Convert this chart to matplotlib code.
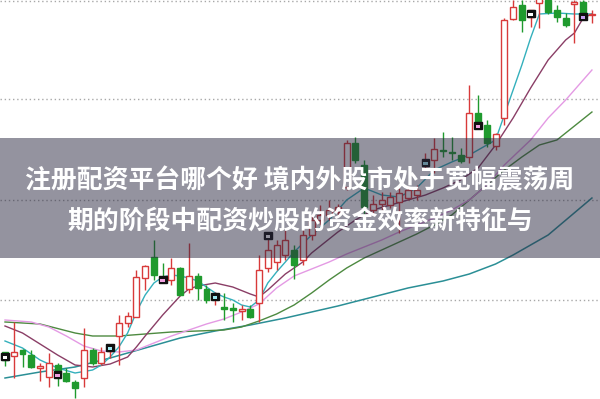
import matplotlib
matplotlib.use("Agg")
import matplotlib.pyplot as plt
from matplotlib.patches import Rectangle

# candle data (price units), index = bar number
opens = [48, 44, 50, 45, 32, 23, 35, 27, 18, 22, 50, 37, 49, 64, 77, 83, 122, 143, 122, 120,
         132, 111, 124, 111, 103, 93, 92, 89, 91, 97, 132, 138, 145, 150, 140, 165, 180, 185, 188, 213,
         257, 235, 190, 196, 195, 198, 202, 205, 234, 240, 250, 248, 245, 243, 287, 275, 254, 282, 381, 395,
         383, 397, 400, 390, 382, 396, 398, 385]
closes = [40, 48, 46, 33, 34, 37, 26, 19, 12, 50, 37, 48, 50, 77, 84, 123, 134, 125, 120, 132,
          105, 124, 112, 100, 105, 91, 90, 91, 83, 130, 150, 155, 160, 135, 165, 180, 185, 190, 193, 257,
          240, 193, 196, 200, 203, 207, 210, 210, 236, 251, 249, 247, 239, 287, 278, 257, 266, 380, 393, 380,
          390, 403, 388, 383, 375, 398, 387, 386]
highs = [48, 78, 51, 50, 37, 47, 37, 32, 20, 72, 52, 53, 56, 85, 88, 130, 135, 160, 137, 142,
         133, 157, 127, 115, 108, 107, 97, 95, 95, 145, 165, 160, 170, 155, 170, 185, 195, 200, 196, 260,
         263, 240, 205, 208, 208, 212, 214, 215, 247, 262, 268, 263, 252, 315, 305, 280, 267, 382, 400, 400,
         390, 410, 400, 395, 387, 400, 400, 390]
lows = [34, 22, 33, 32, 19, 13, 14, 18, 2, 13, 35, 35, 42, 35, 73, 83, 110, 120, 117, 115,
        105, 107, 100, 97, 95, 80, 78, 80, 82, 78, 128, 130, 140, 121, 135, 160, 175, 180, 185, 210,
        237, 183, 185, 190, 192, 167, 200, 200, 230, 227, 243, 240, 237, 237, 273, 253, 250, 275, 380, 368,
        373, 372, 386, 378, 373, 357, 380, 377]

# small boxed markers every sixth bar: (bar, price, inner colour)
mark_bars = [0, 6, 12, 18, 24, 30, 48, 54, 60, 66]
mark_vals = [44, 26, 53, 121, 104, 165, 238, 275, 387, 384]
mark_cols = ["#ffffff", "#f0a0e0", "#a0e8f0", "#f0a0e0", "#a0e8f0", "#ffffff",
             "#a0e8f0", "#f0a0e0", "#ffffff", "#c8a0f0"]

# moving average lines: (bars, values)
ma5_x = [0, 2, 4, 6, 8, 10, 11, 12, 13, 14, 15, 16, 17, 18, 19, 20, 21, 22, 23, 24, 25, 26, 27, 28,
         29, 30, 31, 32, 33, 35, 37, 39, 41, 43, 45, 47, 49, 51, 53, 55, 56, 57, 58, 59, 60, 61, 63, 65, 67]
ma5_y = [59, 52, 40, 32, 27, 30, 35, 43, 53, 67, 88, 105, 117, 123, 125, 124, 122, 119, 113, 107, 103,
         100, 95, 93, 100, 117, 128, 138, 148, 165, 180, 200, 212, 205, 203, 212, 230, 238, 245, 255,
         260, 285, 310, 335, 362, 386, 387, 386, 386]
ma10_x = [0, 2, 4, 6, 8, 10, 12, 14, 15, 16, 18, 20, 21, 22, 24, 26, 28, 29, 30, 32, 33, 34, 35,
          38, 40, 42, 44, 46, 48, 50, 52, 54, 56, 58, 60, 62, 64, 65, 66, 67]
ma10_y = [74, 67, 56, 45, 35, 33, 36, 43, 53, 64, 85, 104, 111, 114, 117, 113, 106, 103, 110, 126,
          132, 138, 147, 168, 180, 190, 195, 200, 205, 212, 220, 232, 255, 282, 312, 340, 360, 367, 382, 386]
ma20_x = [0, 3, 5, 7, 9, 11, 13, 15, 17, 19, 21, 23, 25, 27, 29, 31, 33, 35, 37, 39, 41, 43, 45,
          47, 49, 51, 53, 55, 57, 60, 62, 64, 67]
ma20_y = [80, 78, 73, 64, 54, 49, 48, 50, 57, 64, 70, 76, 81, 88, 96, 112, 124, 131, 138, 146, 153,
          160, 168, 175, 182, 190, 200, 215, 235, 260, 282, 300, 330]
ma30_x = [0, 4, 8, 10, 13, 16, 19, 22, 25, 27, 29, 31, 33, 35, 37, 39, 41, 43, 45, 47, 49, 51, 53,
          55, 57, 59, 61, 63, 67]
ma30_y = [78, 76, 67, 64, 64, 66, 68, 69, 70, 73, 79, 86, 95, 107, 120, 132, 142, 150, 158, 166, 175,
          185, 200, 215, 230, 243, 255, 260, 288]
ma60_x = [0, 4, 8, 12, 16, 20, 24, 28, 32, 34, 38, 42, 46, 50, 53, 56, 58, 62, 67]
ma60_y = [22, 28, 33, 42, 52, 62, 69, 75, 82, 86, 94, 103, 112, 119, 126, 136, 145, 165, 202]

grid_vals = [399, 301, 200, 100]

title_1 = "注册配资平台哪个好 境内外股市处于宽幅震荡周"
title_2 = "期的阶段中配资炒股的资金效率新特征与"

RED = "#d83a3a"
GREEN = "#1f9a2e"

fig = plt.figure(figsize=(6, 3.99), dpi=100)
ax = fig.add_axes([0, 0, 1, 1])
ax.set_xlim(-0.57, 67.92)
ax.set_ylim(1, 400)
ax.axis("off")

for g in grid_vals:
    ax.axhline(g, color="#a8a8a8", lw=1, ls=(0, (1, 2)), zorder=0)

ax.plot(ma60_x, ma60_y, color="#2b8f96", lw=1.1, zorder=2)
ax.plot(ma30_x, ma30_y, color="#4d8a40", lw=1.0, zorder=2)
ax.plot(ma20_x, ma20_y, color="#e49ae4", lw=1.0, zorder=2)
ax.plot(ma10_x, ma10_y, color="#8a3e66", lw=1.0, zorder=2)
ax.plot(ma5_x, ma5_y, color="#34b0bc", lw=1.0, zorder=2)

w = 0.68
for i, (o, c, h, l) in enumerate(zip(opens, closes, highs, lows)):
    col = RED if c >= o else GREEN
    ax.vlines(i, l, h, color=col, lw=1.0, zorder=3)
    lo = min(o, c)
    ht = max(abs(c - o), 1)
    face = "white" if c >= o else GREEN
    ax.add_patch(Rectangle((i - w / 2, lo), w, ht, facecolor=face, edgecolor=col, lw=1.0, zorder=4))

for b, v, mc in zip(mark_bars, mark_vals, mark_cols):
    ax.add_patch(Rectangle((b - 0.45, v - 3.5), 0.9, 7, facecolor="#111111", edgecolor="#111111", zorder=5))
    ax.add_patch(Rectangle((b - 0.25, v - 2.5), 0.5, 3, facecolor=mc, edgecolor="none", zorder=6))

# grey caption band
ax.add_patch(Rectangle((0, 141 / 399), 1, 120 / 399, transform=ax.transAxes,
                       facecolor="#2a2840", alpha=0.5, edgecolor="none", zorder=10))
fam = ["Noto Sans CJK SC", "DejaVu Sans"]
fig.text(0.5, 1 - 181 / 399, title_1, ha="center", va="center", color="white",
         fontsize=18.6, fontweight="bold", family=fam, zorder=11)
fig.text(0.5, 1 - 221 / 399, title_2, ha="center", va="center", color="white",
         fontsize=18.6, fontweight="bold", family=fam, zorder=11)

fig.savefig("out.png", dpi=100)
